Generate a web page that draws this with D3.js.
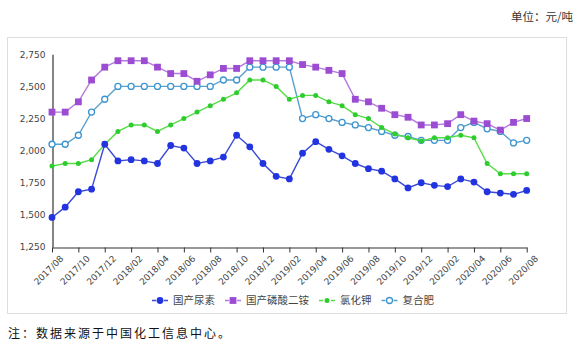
<!DOCTYPE html>
<html>
<head>
<meta charset="utf-8">
<script src="https://cdn.jsdelivr.net/npm/d3@7/dist/d3.min.js"></script>
<style>
  html, body { margin: 0; padding: 0; background: #fff; }
  svg { display: block; }
</style>
</head>
<body>
<svg id="chart" width="582" height="346"></svg>
<script>
// Monthly prices, 2017/08 – 2020/08 (元/吨)
const months = [];
for (let y = 2017, m = 8; y < 2020 || (y === 2020 && m <= 8); ) {
  months.push(y + "/" + String(m).padStart(2, "0"));
  m++; if (m > 12) { m = 1; y++; }
}

const urea = [1480, 1560, 1680, 1700, 2050, 1920, 1930, 1920, 1900, 2040,
              2020, 1900, 1920, 1950, 2120, 2030, 1900, 1800, 1780, 1980,
              2070, 2010, 1960, 1900, 1860, 1840, 1780, 1710, 1750, 1730,
              1720, 1780, 1755, 1680, 1670, 1660, 1690];
const dap = [2300, 2300, 2380, 2550, 2650, 2700, 2700, 2700, 2650, 2600,
             2600, 2540, 2590, 2640, 2640, 2700, 2700, 2700, 2700, 2670,
             2650, 2625, 2600, 2400, 2380, 2330, 2280, 2260, 2200, 2200,
             2210, 2280, 2230, 2210, 2160, 2220, 2250];
const kcl = [1880, 1900, 1900, 1930, 2050, 2150, 2200, 2200, 2150, 2200,
             2250, 2300, 2350, 2400, 2450, 2550, 2550, 2500, 2400, 2430,
             2430, 2380, 2350, 2280, 2250, 2180, 2130, 2100, 2075, 2100,
             2100, 2120, 2100, 1900, 1820, 1820, 1820];
const compound = [2050, 2050, 2120, 2300, 2400, 2500, 2500, 2500, 2500, 2500,
                  2500, 2500, 2500, 2550, 2550, 2650, 2650, 2650, 2650, 2250,
                  2280, 2250, 2220, 2200, 2180, 2150, 2120, 2110, 2080, 2080,
                  2080, 2180, 2220, 2170, 2150, 2060, 2080];

const yTicks = [1250, 1500, 1750, 2000, 2250, 2500, 2750];
const xTickLabels = months.filter((d, i) => i % 2 === 0);

const series = [
  { name: "国产尿素", values: urea, line: "#3b4ad6", mark: "#2233e0", shape: "dot", r: 3.4 },
  { name: "国产磷酸二铵", values: dap, line: "#b47adf", mark: "#9b4cd2", shape: "square", r: 3.4 },
  { name: "氯化钾", values: kcl, line: "#55dd44", mark: "#2ecc2e", shape: "dot", r: 2.5 },
  { name: "复合肥", values: compound, line: "#5aa0cc", mark: "#3c94d0", shape: "ring", r: 3 }
];

const svg = d3.select("#chart");

// unit note
svg.append("text")
  .attr("x", 573).attr("y", 21)
  .attr("text-anchor", "end")
  .attr("font-family", "'Noto Sans CJK SC', sans-serif")
  .attr("font-size", 11.5)
  .attr("fill", "#333")
  .text("单位：元/吨");

// chart frame
svg.append("rect")
  .attr("x", 7.5).attr("y", 37.5)
  .attr("width", 559).attr("height", 276)
  .attr("fill", "#fff")
  .attr("stroke", "#dedede");

const x = d3.scalePoint().domain(months).range([52, 526.7]);
const y = d3.scaleLinear().domain([1250, 2750]).range([247, 54.3]);

// y axis
const yAxis = svg.append("g")
  .attr("transform", "translate(52.5,0)")
  .call(d3.axisLeft(y).tickValues(yTicks).tickSize(0).tickPadding(7).tickFormat(d3.format(",")));
yAxis.select(".domain").attr("stroke", "#333").attr("stroke-width", 1.2);
yAxis.selectAll("text")
  .attr("font-family", "'DejaVu Sans', sans-serif")
  .attr("font-size", 9).attr("fill", "#444");

// x axis
const xAxis = svg.append("g")
  .attr("transform", "translate(0,247.5)")
  .call(d3.axisBottom(x).tickValues(xTickLabels).tickSize(5).tickSizeOuter(0));
xAxis.select(".domain").attr("stroke", "#333").attr("stroke-width", 1.2);
xAxis.selectAll(".tick line").attr("stroke", "#333");
xAxis.selectAll("text")
  .attr("font-family", "'DejaVu Sans', sans-serif")
  .attr("font-size", 9).attr("fill", "#444")
  .attr("text-anchor", "end")
  .attr("dy", 0)
  .attr("transform", "translate(6,6) rotate(-45)");

const lineGen = d3.line().x((d, i) => x(months[i])).y(d => y(d));

function drawMarker(g, s, cx, cy) {
  if (s.shape === "square") {
    g.append("rect")
      .attr("x", cx - s.r).attr("y", cy - s.r)
      .attr("width", s.r * 2).attr("height", s.r * 2)
      .attr("fill", s.mark);
  } else if (s.shape === "ring") {
    g.append("circle").attr("cx", cx).attr("cy", cy).attr("r", s.r)
      .attr("fill", "#fff").attr("stroke", s.mark).attr("stroke-width", 1.3);
  } else {
    g.append("circle").attr("cx", cx).attr("cy", cy).attr("r", s.r)
      .attr("fill", s.mark);
  }
}

const plot = svg.append("g");
series.slice().reverse().forEach(s => {
  const g = plot.append("g");
  g.append("path")
    .datum(s.values)
    .attr("d", lineGen)
    .attr("fill", "none")
    .attr("stroke", s.line)
    .attr("stroke-width", 1.4);
  s.values.forEach((v, i) => drawMarker(g, s, x(months[i]), y(v)));
});

// legend
const legend = svg.append("g");
let lx = 152;
const ly = 300.5;
series.forEach(s => {
  const g = legend.append("g");
  g.append("line")
    .attr("x1", lx).attr("x2", lx + 16)
    .attr("y1", ly).attr("y2", ly)
    .attr("stroke", s.line).attr("stroke-width", 1.6)
    .attr("stroke-dasharray", "4,8,4");
  drawMarker(g, s, lx + 8, ly);
  const t = g.append("text")
    .attr("x", lx + 21).attr("y", ly + 3.8)
    .attr("font-family", "'Noto Sans CJK SC', sans-serif")
    .attr("font-size", 10.5).attr("fill", "#444")
    .text(s.name);
  lx += 21 + t.node().getComputedTextLength() + 10;
});

// source note
svg.append("text")
  .attr("x", 8).attr("y", 338)
  .attr("font-family", "'Noto Sans CJK SC', sans-serif")
  .attr("font-size", 12)
  .attr("fill", "#111")
  .attr("letter-spacing", 2)
  .text("注：数据来源于中国化工信息中心。");
</script>
</body>
</html>
